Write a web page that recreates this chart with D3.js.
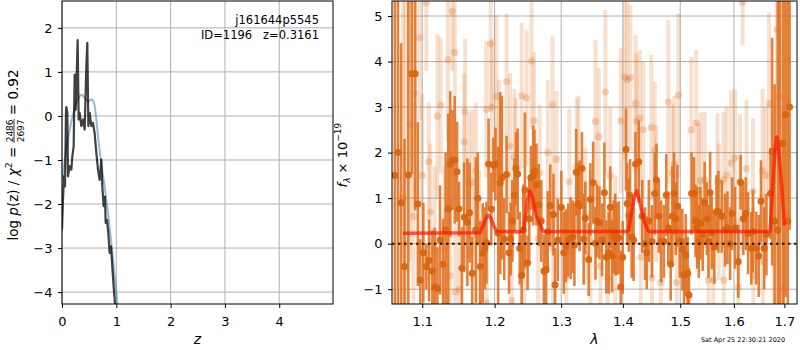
<!DOCTYPE html>
<html><head><meta charset="utf-8">
<script src="https://cdn.jsdelivr.net/npm/d3@7"></script>
<style>body{margin:0;background:#fff} svg{font-family:"DejaVu Sans",sans-serif}</style>
</head><body><svg id="c" width="800" height="350"></svg>
<script>
// ---------------- data ----------------
const pzZ = [0,0.018,0.037,0.055,0.074,0.080,0.098,0.110,0.141,0.172,0.190,0.215,0.233,0.252,0.270,0.288,0.307,0.325,0.356,0.387,0.417,0.448,0.466,0.485,0.509,0.540,0.571,0.601,0.632,0.663,0.693,0.724,0.742,0.767,0.791,0.804,0.828,0.853,0.877,0.902,0.926,0.951,0.975,1.0];
const pzLogP = [-2.58,-1.9,-1.37,-1.6,0.14,0.2,0.07,-1.37,-1.14,-1.22,-0.92,-0.69,0.94,0.14,0.9,1.72,-0.08,0.07,-0.23,-0.08,-0.31,1.13,1.66,-0.23,0.07,-0.23,-0.16,-0.39,-0.84,-1.22,-1.45,-0.99,-1.6,-2.05,-1.83,-2.43,-2.36,-2.66,-3.11,-2.96,-3.42,-3.87,-4.25,-4.7];
const priorZ = [0.0,0.013,0.086,0.209,0.30,0.363,0.424,0.486,0.547,0.59,0.627,0.67,0.732,0.793,0.855,0.916,0.978,1.02,1.05];
const priorLogP = [-1.45,-1.38,-0.70,0.06,0.40,0.48,0.40,0.33,0.38,0.29,-0.02,-0.55,-1.15,-1.68,-2.29,-2.97,-3.73,-4.25,-4.6];

const darkLam = [1.0643,1.0683,1.0723,1.0768,1.0817,1.0862,1.0907,1.0942,1.0974,1.1014,1.1054,1.1090,1.1135,1.1166,1.1202,1.1237,1.1278,1.1313,1.1349,1.1376,1.1407,1.1438,1.1470,1.1497,1.1537,1.1568,1.1613,1.1644,1.1680,
1.1731,1.1760,1.1795,1.1829,1.1859,1.1883,1.1913,1.1952,1.1982,1.2012,1.2051,1.2081,1.2105,1.2140,1.2174,1.2209,1.2234,1.2258,1.2288,1.2312,1.2337,1.2367,1.2396,1.2421,1.2445,1.2485,1.2510,1.2534,1.2569,1.2588,1.2618,1.2653,1.2692,1.2731,1.2766,1.2791,1.2830,1.2879,1.2904,
1.2947,1.3002,1.3040,1.3072,1.3110,1.3148,1.3181,1.3208,1.3236,1.3263,1.3290,1.3328,1.3355,1.3382,1.3437,1.3464,1.3508,1.3546,1.3573,1.3611,1.3654,1.3692,1.3725,1.3763,1.3790,1.3818,1.3845,1.3872,1.3899,1.3932,1.3964,1.3997,1.4052,1.4073,1.4100,1.4122,1.4149,1.4182,1.4215,
1.4270,1.4330,1.4378,1.4408,1.4444,1.4498,1.4546,1.4576,1.4618,1.4660,1.4708,1.4750,1.4786,1.4828,1.4858,1.4888,1.4918,1.4948,1.4990,1.5038,1.5068,1.5098,1.5134,1.5158,1.5206,1.5248,1.5278,1.5308,1.5338,1.5368,1.5410,1.5446,1.5488,1.5518,1.5548,1.5578,1.5626,1.5668,1.5704,
1.5767,1.5830,1.5875,1.5926,1.5964,1.6021,1.6084,1.6129,1.6180,1.6230,1.6275,1.6338,1.6370,1.6434,1.6484,1.6529,1.6592,1.6637,1.6719,1.6751,1.6802,1.6865,1.6910,1.6973,1.7024,1.7069,1.7107];
const darkFlux = [1.5,2.0,0.9,-0.5,1.51,3.73,3.73,0.87,-0.8,-0.2,-0.5,-0.37,-0.6,-0.95,-0.98,0.08,-0.45,0.3,0.76,1.75,1.84,1.84,1.58,0.76,-0.54,0.58,0.47,0.68,-0.65,
0.3,1.0,-0.5,-0.21,-0.1,0.02,1.75,0.76,1.73,1.75,0.23,1.33,1.45,0.1,1.52,-0.2,0.1,0.5,1.07,1.65,1.53,-0.1,-0.7,0.3,1.18,-0.42,0.55,1.45,1.5,1.6,1.3,0.85,0.5,-0.6,-0.57,0.26,0.84,0.64,-0.9,
0.08,0.8,-0.2,-0.05,0.08,0.12,0.15,-0.03,1.57,0.88,0.83,1.65,0.1,0.56,-0.35,0.97,1.34,0.01,0.5,0.46,0.08,1.12,-0.29,-0.2,0.8,-0.27,0.15,0.2,0.11,0.13,-0.95,-0.3,2.07,0.88,0.62,1.06,0.15,0.08,1.75,
1.8,0.6,0.0,-0.2,0.5,0.05,1.1,1.4,0.6,0.05,0.05,1.07,0.35,-0.45,0.6,1.1,0.55,0.83,0.05,-0.13,-0.68,-0.25,-0.65,-1.13,1.1,1.1,0.5,0.35,0.05,0.45,0.2,0.9,0.55,0.05,1.12,0.24,-0.08,0.7,0.7,
0.6,0.3,0.35,0.0,0.66,0.35,-0.39,1.35,0.55,0.66,0.23,-0.1,0.27,-0.1,-0.27,0.93,-0.1,0.2,1.1,2.02,0.5,0.3,2.2,2.2,2.83,0.5,3.0];
const darkErr = [6,6,3.5,2.8,6,2.2,3.0,1.8,0.9,1.1,0.5,0.9,0.9,1.3,0.9,1.2,1.0,1.7,2.1,1.6,1.1,1.4,1.1,0.6,0.9,1.2,1.4,1.1,0.8,
1.6,1.0,1.0,1.1,0.9,0.9,1.0,0.8,0.6,0.8,1.9,2.0,1.8,0.9,0.85,0.9,0.8,0.9,0.8,0.8,1.0,0.8,0.9,1.0,1.7,0.6,0.9,0.7,1.1,0.9,0.9,0.9,0.9,0.8,0.9,0.9,0.9,0.9,0.8,
0.9,0.8,0.9,0.8,0.8,0.9,0.8,0.9,0.95,0.9,1.0,0.8,1.0,0.8,0.8,0.8,0.9,0.8,0.8,0.8,0.8,1.1,0.8,0.9,0.9,0.8,0.8,0.9,0.8,0.8,0.8,0.8,0.9,0.9,0.8,0.8,0.9,0.9,0.7,
0.9,0.8,0.8,0.8,0.9,0.8,0.9,0.8,0.8,0.9,0.8,0.9,0.8,0.8,1.1,0.9,0.8,0.9,0.8,0.9,0.8,0.9,0.8,0.6,0.9,0.8,0.8,0.9,0.8,0.8,0.8,0.9,0.8,0.8,0.9,0.8,0.8,0.8,0.9,
0.8,0.8,0.8,0.8,0.8,0.9,0.8,0.6,0.8,0.8,0.9,0.8,0.9,0.8,0.9,0.9,0.9,0.9,1.0,2.5,3.0,7,7,7,4,7,2.7];

const lightLam = [1.0750,1.0777,1.0839,1.0884,1.0898,1.0965,1.1000,1.1054,1.1085,1.1108,1.1166,1.1202,1.1246,1.1300,1.1345,1.1376,1.1403,1.1438,1.1447,1.1501,1.1568,1.1581,1.1635,1.1680,
1.1731,1.1780,1.1879,1.1885,1.1943,1.1962,1.2026,1.2061,1.2174,1.2224,1.2248,1.2288,1.2307,1.2396,1.2436,1.2470,1.2544,1.2584,1.2643,1.2667,1.2791,1.2865,1.2874,
1.2925,1.3083,1.3127,1.3246,1.3274,1.3382,1.3464,1.3546,1.3600,1.3627,1.3709,1.3747,1.3790,1.3872,1.3964,1.4035,1.4073,1.4128,1.4215,1.4231,
1.4288,1.4306,1.4348,1.4486,1.4498,1.4546,1.4570,1.4654,1.4786,1.4858,1.4888,1.4936,1.4966,1.5200,1.5290,1.5338,1.5374,1.5446,1.5518,1.5608,1.5686,1.5710,
1.5799,1.5805,1.5862,1.5945,1.6021,1.6084,1.6116,1.6167,1.6243,1.6370,1.6376,1.6561,1.6566,1.6624,1.6688,1.6783,1.6846,1.6897,1.6973];
const lightFlux = [1,0,2.61,0.6,3.3,4.52,1.5,5.29,1.8,0.7,-0.1,2.8,3.04,-0.1,4.04,-0.7,5.1,4.2,-1.06,-1.0,2.24,2.9,1.29,1.35,
1.6,0.0,2.95,-1.3,4.39,3.0,3.23,2.0,3.56,2.15,-1.25,1.9,1.7,3.25,-0.5,3.2,4.01,2.7,0.1,1.55,2.0,3.05,-0.1,
1.85,-0.7,1.36,1.7,1.65,0.6,0.08,2.68,2.35,-0.5,3.33,-0.76,1.5,0.0,2.7,3.66,3.6,3.65,3.08,2.68,
2.75,-0.3,2.5,2.55,-0.75,2.05,1.1,-0.85,3.11,1.55,1.75,-0.85,3.26,2.5,2.65,1.15,1.38,1.4,-0.8,-0.8,1.36,0.7,
1.4,-0.8,1.5,1.77,1.88,-0.95,1.35,5.3,1.65,1.15,-0.7,1.6,-0.4,1.5,3.08,0.35,4.7,3.23,-1.0];
const lightErr = [7,7,3,2.5,2.5,1.8,1.8,1.5,1.3,1.5,1.8,1.8,1.5,1.8,1.8,1.5,1.3,1.5,1.5,1.5,1.5,1.6,1.6,1.6,
1.5,1.6,1.5,1.5,1.5,1.5,1.8,1.6,1.5,1.6,1.5,1.5,1.5,1.6,1.6,1.5,1.5,1.5,1.5,1.5,1.6,1.5,1.5,
1.5,1.5,1.6,1.5,1.6,1.5,1.5,1.8,1.5,1.5,1.8,1.5,1.5,1.5,1.6,1.8,1.7,1.6,1.5,1.5,
1.5,1.5,1.5,1.6,1.5,1.5,1.5,1.5,1.8,1.5,1.5,1.5,1.8,1.6,1.6,1.5,1.5,1.5,1.5,1.5,1.5,1.5,
1.5,1.5,1.5,1.6,1.5,1.5,1.5,0.95,1.5,1.6,1.5,1.8,1.5,1.5,2.0,2.5,3,3,4];

const modelLam = [1.075,1.179,1.184,1.188,1.191,1.195,1.199,1.203,1.242,1.246,1.249,1.252,1.256,1.262,1.272,1.409,1.414,1.419,1.4235,1.429,1.436,1.4436,1.671,1.676,1.681,1.6845,1.689,1.695,1.700];
const modelFlux = [0.23,0.24,0.42,0.58,0.63,0.55,0.38,0.27,0.26,0.65,1.02,1.16,1.0,0.6,0.27,0.27,0.62,1.0,1.16,0.9,0.5,0.27,0.27,1.2,2.1,2.35,2.0,1.2,0.4];

const leftXTicks = [0,1,2,3,4];
const leftYTicks = [-4,-3,-2,-1,0,1,2];
const rightXTicks = [1.1,1.2,1.3,1.4,1.5,1.6,1.7];
const rightYTicks = [-1,0,1,2,3,4,5];
const titleLines = ["j161644p5545","ID=1196   z=0.3161"];
const stamp = "Sat Apr 25 22:30:21 2020";

// ---------------- drawing ----------------
const svg = d3.select("#c");
const GRID = "#b0b0b0", DARK = "#e07020";
const FS = 13;

const L = {x0:62, x1:333, y0:1, y1:304};
const R = {x0:392, x1:797, y0:1, y1:304};
const xL = d3.scaleLinear().domain([0,4.99]).range([L.x0,L.x1]);
const yL = d3.scaleLinear().domain([-4.27,2.61]).range([L.y1,L.y0]);
const xR = d3.scaleLog().domain([1.0607,1.726]).range([R.x0,R.x1]);
const yR = d3.scaleLinear().domain([-1.325,5.33]).range([R.y1,R.y0]);

const defs = svg.append("defs");
[["clipL",L],["clipR",R]].forEach(([id,P])=>{
  defs.append("clipPath").attr("id",id).append("rect")
    .attr("x",P.x0).attr("y",P.y0).attr("width",P.x1-P.x0).attr("height",P.y1-P.y0);
});

function grid(P, xs, ys, xt, yt){
  const g = svg.append("g").attr("stroke",GRID).attr("stroke-width",1);
  xt.forEach(t=>g.append("line").attr("x1",xs(t)).attr("x2",xs(t)).attr("y1",P.y0).attr("y2",P.y1));
  yt.forEach(t=>g.append("line").attr("y1",ys(t)).attr("y2",ys(t)).attr("x1",P.x0).attr("x2",P.x1));
}
function axes(P, xs, ys, xt, yt, xfmt, yfmt){
  const ax = svg.append("g").attr("transform",`translate(0,${P.y1})`)
    .call(d3.axisBottom(xs).tickValues(xt).tickSize(4).tickPadding(8.5).tickFormat(xfmt));
  const ay = svg.append("g").attr("transform",`translate(${P.x0},0)`)
    .call(d3.axisLeft(ys).tickValues(yt).tickSize(4).tickPadding(5.5).tickFormat(yfmt));
  [ax,ay].forEach(a=>{
    a.select(".domain").remove();
    a.selectAll("text").attr("font-size",FS).attr("font-family","DejaVu Sans").attr("fill","#000");
    a.selectAll("line").attr("stroke","#000");
  });
  svg.append("rect").attr("x",P.x0).attr("y",P.y0).attr("width",P.x1-P.x0).attr("height",P.y1-P.y0)
    .attr("fill","none").attr("stroke","#000").attr("stroke-width",1);
}

// ---- left panel ----
grid(L, xL, yL, leftXTicks, leftYTicks);
const gl = svg.append("g").attr("clip-path","url(#clipL)");
gl.append("path").datum(priorZ.map((z,i)=>[z,priorLogP[i]]))
  .attr("d", d3.line().x(d=>xL(d[0])).y(d=>yL(d[1])).curve(d3.curveCatmullRom))
  .attr("fill","none").attr("stroke","#1f77b4").attr("stroke-opacity",0.5).attr("stroke-width",2);
gl.append("path").datum(pzZ.map((z,i)=>[z,pzLogP[i]]))
  .attr("d", d3.line().x(d=>xL(d[0])).y(d=>yL(d[1])))
  .attr("fill","none").attr("stroke","#000").attr("stroke-opacity",0.75).attr("stroke-width",2.2)
  .attr("stroke-linejoin","round");
axes(L, xL, yL, leftXTicks, leftYTicks, d3.format("d"), d3.format("d"));

titleLines.forEach((s,i)=>svg.append("text").attr("x",319).attr("y",24+i*15)
  .attr("text-anchor","end").attr("font-size",11.5).style("white-space","pre").text(s));

svg.append("text").attr("x",(L.x0+L.x1)/2).attr("y",344).attr("text-anchor","middle")
  .attr("font-size",FS+1).attr("font-style","italic").text("z");

// rotated y label with fraction
(function(){
  const g = svg.append("g").attr("transform","translate(18,155) rotate(-90)");
  const t = g.append("text").attr("font-size",13.5).attr("y",0);
  const parts = [
    {s:"log "},{s:"p",it:1},{s:"(z) / "},{s:"χ",it:1},
    {s:"2",size:9.5,dy:-6},{s:" = ",dy:6},
    {s:"2486",size:9,dy:-5.5,num:1},{s:"2697",size:9,dy:11,den:1},
    {s:" = 0.92",dy:-5.5}
  ];
  let idx=0, numStart=0;
  parts.forEach(p=>{
    const ts = t.append("tspan").text(p.s);
    if(p.it) ts.attr("font-style","italic");
    if(p.size) ts.attr("font-size",p.size);
    if(p.dy) ts.attr("dy",p.dy);
    if(p.num){ numStart=idx; p.ref=ts; }
    if(p.den){ ts.attr("dx", -parts[6].ref.node().getComputedTextLength()); }
    idx += p.s.length;
  });
  const bb = t.node().getBBox();
  t.attr("x", -bb.width/2);
  const n = t.node();
  const a = n.getStartPositionOfChar(numStart).x, b = n.getEndPositionOfChar(numStart+3).x;
  g.append("line").attr("x1",a-0.5).attr("x2",b+0.5).attr("y1",-4).attr("y2",-4)
    .attr("stroke","#000").attr("stroke-width",0.8);
})();

// ---- right panel ----
grid(R, xR, yR, rightXTicks, rightYTicks);
const gr = svg.append("g").attr("clip-path","url(#clipR)");
const light = lightLam.map((l,i)=>({l, v:lightFlux[i], e:lightErr[i]}));
const dark = darkLam.map((l,i)=>({l, v:darkFlux[i], e:darkErr[i]}));
gr.append("g").selectAll("line").data(light).join("line")
  .attr("x1",d=>xR(d.l)).attr("x2",d=>xR(d.l)).attr("y1",d=>yR(d.v-d.e)).attr("y2",d=>yR(d.v+d.e))
  .attr("stroke",DARK).attr("stroke-opacity",0.22).attr("stroke-width",4);
gr.append("g").selectAll("circle").data(light).join("circle")
  .attr("cx",d=>xR(d.l)).attr("cy",d=>yR(d.v)).attr("r",3.6)
  .attr("fill",DARK).attr("fill-opacity",0.28);
gr.append("g").selectAll("line").data(dark).join("line")
  .attr("x1",d=>xR(d.l)).attr("x2",d=>xR(d.l)).attr("y1",d=>yR(d.v-d.e)).attr("y2",d=>yR(d.v+d.e))
  .attr("stroke",DARK).attr("stroke-opacity",0.88).attr("stroke-width",2.6);
gr.append("g").selectAll("circle").data(dark).join("circle")
  .attr("cx",d=>xR(d.l)).attr("cy",d=>yR(d.v)).attr("r",3.5)
  .attr("fill","#d8650f").attr("fill-opacity",0.95);
gr.append("path").datum(modelLam.map((l,i)=>[l,modelFlux[i]]))
  .attr("d", d3.line().x(d=>xR(d[0])).y(d=>yR(d[1])))
  .attr("fill","none").attr("stroke","#ff1500").attr("stroke-opacity",0.7).attr("stroke-width",3.5)
  .attr("stroke-linejoin","round");
gr.append("line").attr("x1",R.x0).attr("x2",R.x1).attr("y1",yR(0)).attr("y2",yR(0))
  .attr("stroke","#000").attr("stroke-width",2).attr("stroke-dasharray","2.5,3.5").attr("stroke-opacity",0.85);
axes(R, xR, yR, rightXTicks, rightYTicks, d3.format(".1f"), d3.format("d"));

svg.append("text").attr("x",(R.x0+R.x1)/2).attr("y",344).attr("text-anchor","middle")
  .attr("font-size",FS+1).attr("font-style","italic").text("λ");

(function(){
  const g = svg.append("g").attr("transform","translate(347,155) rotate(-90)");
  const t = g.append("text").attr("font-size",13);
  t.append("tspan").attr("font-style","italic").text("f");
  t.append("tspan").attr("font-style","italic").attr("font-size",9).attr("dy",3).text("λ");
  t.append("tspan").attr("dy",-3).text(" × 10");
  t.append("tspan").attr("font-size",9).attr("dy",-6).text("−19");
  const bb = t.node().getBBox();
  t.attr("x",-bb.width/2);
})();

svg.append("text").attr("x",743).attr("y",342).attr("text-anchor","middle")
  .attr("font-size",6.5).text(stamp);
</script></body></html>
